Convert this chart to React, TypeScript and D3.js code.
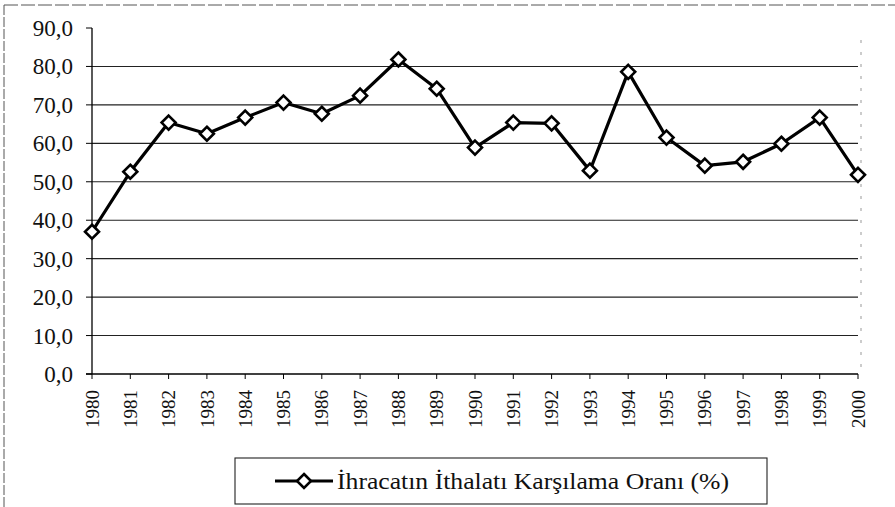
import React, { useEffect, useRef } from 'react';
import * as d3 from 'd3';

const years = ['1980', '1981', '1982', '1983', '1984', '1985', '1986', '1987', '1988', '1989', '1990',
  '1991', '1992', '1993', '1994', '1995', '1996', '1997', '1998', '1999', '2000'];

const ratio = [37.0, 52.6, 65.4, 62.5, 66.7, 70.6, 67.7, 72.4, 81.8, 74.2, 58.9,
  65.4, 65.2, 52.9, 78.6, 61.5, 54.2, 55.2, 59.9, 66.7, 51.8];

const yTicks = [0, 10, 20, 30, 40, 50, 60, 70, 80, 90];

const seriesName = 'İhracatın İthalatı Karşılama Oranı (%)';

const FONT = '"Liberation Serif", "DejaVu Serif", serif';

const App: React.FC = () => {
  const svgRef = useRef<SVGSVGElement>(null);

  useEffect(() => {
    if (!svgRef.current) return;
    const svg = d3.select(svgRef.current);
    svg.selectAll('*').remove();

    const width = 895;
    const height = 507;

    svg.attr('width', width).attr('height', height)
      .style('background', '#fff')
      .style('font-family', FONT);

    // outer frame (scan shows only top and left edges)
    svg.append('line').attr('x1', 4).attr('x2', width).attr('y1', 5).attr('y2', 5)
      .attr('stroke', '#555').attr('stroke-width', 1).attr('stroke-dasharray', '14 3');
    svg.append('line').attr('x1', 4).attr('x2', 4).attr('y1', 5).attr('y2', height)
      .attr('stroke', '#555').attr('stroke-width', 1).attr('stroke-dasharray', '10 2');

    const x = d3.scalePoint<string>().domain(years).range([92, 858]);
    const y = d3.scaleLinear().domain([0, 90]).range([374, 28]);

    // gridlines
    svg.append('g')
      .selectAll('line')
      .data(yTicks.filter(t => t > 0 && t < 90))
      .join('line')
      .attr('x1', 92).attr('x2', 858)
      .attr('y1', d => y(d)).attr('y2', d => y(d))
      .attr('stroke', '#222').attr('stroke-width', 1.1);

    // faint right edge of plot area
    svg.append('line').attr('x1', 861).attr('x2', 861).attr('y1', 40).attr('y2', 372)
      .attr('stroke', '#999').attr('stroke-width', 1).attr('stroke-dasharray', '3 9');

    // y axis
    const yAxis = svg.append('g');
    yAxis.append('line').attr('x1', 92).attr('x2', 92).attr('y1', y(90)).attr('y2', y(0))
      .attr('stroke', '#000').attr('stroke-width', 1.3);
    yAxis.selectAll('line.tick')
      .data(yTicks)
      .join('line')
      .attr('class', 'tick')
      .attr('x1', 86).attr('x2', 92)
      .attr('y1', d => y(d)).attr('y2', d => y(d))
      .attr('stroke', '#000').attr('stroke-width', 1);
    yAxis.selectAll('text')
      .data(yTicks)
      .join('text')
      .attr('x', 73)
      .attr('y', d => y(d))
      .attr('dy', '0.35em')
      .attr('text-anchor', 'end')
      .attr('font-size', 23)
      .attr('fill', '#111')
      .text(d => d3.format('.1f')(d).replace('.', ','));

    // x axis
    const xAxis = svg.append('g');
    xAxis.append('line').attr('x1', 86).attr('x2', 858).attr('y1', y(0)).attr('y2', y(0))
      .attr('stroke', '#000').attr('stroke-width', 1.3);
    xAxis.selectAll('line.tick')
      .data(years)
      .join('line')
      .attr('class', 'tick')
      .attr('x1', d => x(d)!).attr('x2', d => x(d)!)
      .attr('y1', y(0)).attr('y2', y(0) + 5)
      .attr('stroke', '#000').attr('stroke-width', 1);
    xAxis.selectAll('text')
      .data(years)
      .join('text')
      .attr('transform', d => `translate(${x(d)},390) rotate(-90)`)
      .attr('dy', '0.35em')
      .attr('text-anchor', 'end')
      .attr('font-size', 19)
      .attr('fill', '#111')
      .text(d => d);

    // series line
    const line = d3.line<number>()
      .x((_, i) => x(years[i])!)
      .y(d => y(d));

    svg.append('path')
      .datum(ratio)
      .attr('d', line)
      .attr('fill', 'none')
      .attr('stroke', '#000')
      .attr('stroke-width', 3.2)
      .attr('stroke-linejoin', 'round');

    const diamond = (cx: number, cy: number, r: number) =>
      `M${cx},${cy - r}L${cx + r},${cy}L${cx},${cy + r}L${cx - r},${cy}Z`;

    svg.append('g')
      .selectAll('path')
      .data(ratio)
      .join('path')
      .attr('d', (d, i) => diamond(x(years[i])!, y(d), 7))
      .attr('fill', '#fff')
      .attr('stroke', '#000')
      .attr('stroke-width', 2.6);

    // legend
    const lg = svg.append('g');
    lg.append('rect').attr('x', 235).attr('y', 458).attr('width', 532).attr('height', 46)
      .attr('fill', '#fff').attr('stroke', '#222').attr('stroke-width', 1.1);
    lg.append('line').attr('x1', 275).attr('x2', 333).attr('y1', 481).attr('y2', 481)
      .attr('stroke', '#000').attr('stroke-width', 3.2);
    lg.append('path').attr('d', diamond(304, 481, 7))
      .attr('fill', '#fff').attr('stroke', '#000').attr('stroke-width', 2.6);
    lg.append('text')
      .attr('x', 337).attr('y', 481).attr('dy', '0.35em')
      .attr('font-size', 23)
      .attr('textLength', 392)
      .attr('lengthAdjust', 'spacingAndGlyphs')
      .attr('fill', '#111')
      .text(seriesName);
  }, []);

  return (
    <svg ref={svgRef} style={{ position: 'absolute', left: 0, top: 0, display: 'block' }} />
  );
};

export default App;
